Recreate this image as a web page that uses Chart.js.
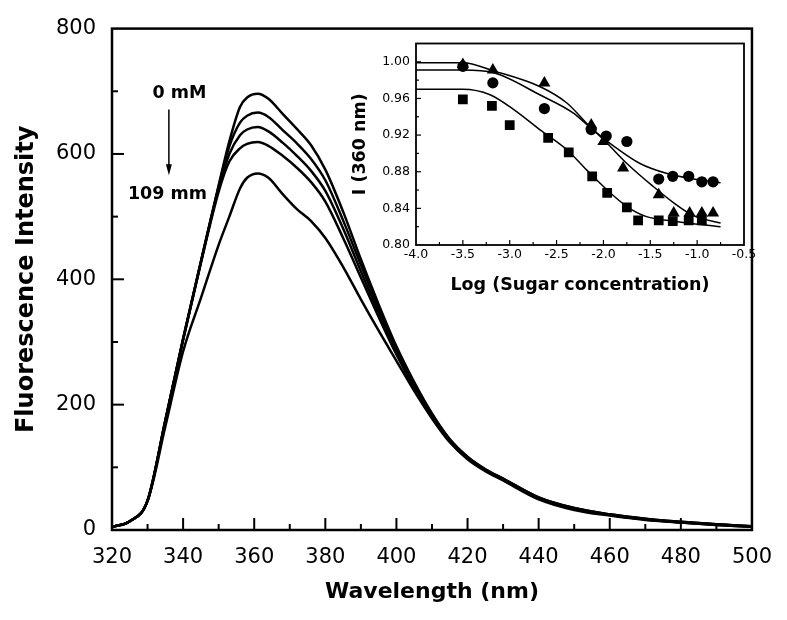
<!DOCTYPE html>
<html>
<head>
<meta charset="utf-8">
<script src="https://cdn.jsdelivr.net/npm/chart.js@4.4.1/dist/chart.umd.min.js"></script>
<style>
  body { margin: 0; background: #fff; }
  #wrap { position: relative; width: 787px; height: 620px; }
  #main { position: absolute; left: 0; top: 0; }
  #inset { position: absolute; left: 310px; top: 30px; }
</style>
</head>
<body>
<div id="wrap">
  <canvas id="main" width="787" height="620"></canvas>
  <canvas id="inset" width="450" height="270"></canvas>
</div>
<script>
// Main panel: emission spectra, 0 mM (top) down to 109 mM (bottom)
const wavelength = [320, 325, 330, 335, 340, 345, 350, 353, 356, 358, 361, 364, 368, 372, 376, 380, 385,
                    390, 395, 400, 405, 410, 415, 420, 425, 430, 440, 450, 460, 470, 480, 490, 500];
const spec0mM   = [5, 14, 47, 175, 305, 428, 550, 620, 675, 690, 696, 688, 664, 640, 614, 575, 508,
                   432, 360, 293, 236, 186, 145, 117, 97, 82, 52, 35, 25, 18, 13, 9, 6];
const specB     = [5, 14, 47, 175, 305, 428, 548, 612, 650, 661, 666, 659, 638, 617, 592, 558, 494,
                   423, 354, 289, 233, 184, 144, 116, 97, 82, 52, 35, 25, 18, 13, 9, 6];
const specC     = [5, 14, 47, 174, 304, 427, 545, 600, 630, 639, 643, 636, 618, 597, 573, 541, 481,
                   413, 347, 285, 230, 182, 143, 115, 96, 81, 51, 34, 24, 17, 12, 9, 6];
const specD     = [5, 14, 47, 173, 303, 426, 540, 588, 609, 616, 619, 613, 597, 578, 555, 524, 466,
                   403, 340, 280, 227, 180, 142, 114, 95, 80, 50, 34, 24, 17, 12, 8, 5];
const spec109mM = [5, 14, 46, 165, 285, 370, 455, 500, 545, 562, 569, 562, 536, 512, 493, 466, 420,
                   368, 318, 270, 222, 178, 140, 113, 94, 79, 49, 32, 23, 16, 12, 8, 5];
const spectra = [spec0mM, specB, specC, specD, spec109mM];

// Inset: I(360 nm) vs log(sugar concentration)
const triLog = [-3.5, -3.18, -2.63, -2.13, -2.0, -1.79, -1.41, -1.25, -1.08, -0.95, -0.83];
const triI   = [0.997, 0.991, 0.977, 0.931, 0.913, 0.884, 0.855, 0.835, 0.835, 0.835, 0.835];
const cirLog = [-3.5, -3.18, -2.63, -2.13, -1.97, -1.75, -1.41, -1.26, -1.09, -0.95, -0.83];
const cirI   = [0.995, 0.977, 0.949, 0.926, 0.919, 0.913, 0.872, 0.875, 0.875, 0.869, 0.869];
const sqLog  = [-3.5, -3.19, -3.0, -2.59, -2.37, -2.12, -1.96, -1.75, -1.63, -1.41, -1.26, -1.09, -0.95];
const sqI    = [0.959, 0.952, 0.931, 0.917, 0.901, 0.875, 0.857, 0.841, 0.827, 0.827, 0.826, 0.827, 0.827];

// fitted curves
const fitTriLog = [-4.0, -3.5, -3.17, -2.68, -2.39, -2.18, -1.96, -1.75, -1.47, -1.25, -1.04, -0.75];
const fitTriI   = [0.999, 0.999, 0.990, 0.973, 0.955, 0.933, 0.911, 0.889, 0.864, 0.846, 0.832, 0.824];
const fitCirLog = [-4.0, -3.5, -3.17, -2.68, -2.32, -2.15, -1.89, -1.61, -1.32, -1.04, -0.75];
const fitCirI   = [0.991, 0.991, 0.988, 0.964, 0.944, 0.929, 0.908, 0.889, 0.878, 0.872, 0.868];
const fitSqLog  = [-4.0, -3.5, -3.21, -2.96, -2.68, -2.39, -2.18, -1.96, -1.75, -1.54, -1.25, -0.75];
const fitSqI    = [0.970, 0.970, 0.964, 0.948, 0.926, 0.904, 0.882, 0.860, 0.842, 0.831, 0.826, 0.820];

Chart.defaults.font.family = "'DejaVu Sans', sans-serif";
Chart.defaults.color = '#000';

const toPts = (xs, ys) => xs.map((x, i) => ({ x: x, y: ys[i] }));

// frame + inward tick marks
const frameTicks = {
    id: 'frameTicks',
    beforeDatasetsDraw(chart, args, opts) {
        if (!opts.fill) return;
        const a = chart.chartArea;
        chart.ctx.save();
        chart.ctx.fillStyle = '#fff';
        chart.ctx.fillRect(a.left, a.top, a.right - a.left, a.bottom - a.top);
        chart.ctx.restore();
    },
    afterDatasetsDraw(chart, args, opts) {
        const { ctx, chartArea: a, scales } = chart;
        ctx.save();
        ctx.strokeStyle = '#000';
        ctx.lineWidth = opts.tickWidth;
        const xs = scales.x, ys = scales.y;
        xs.ticks.forEach(t => {
            if (t.value <= xs.min + 1e-9 || t.value >= xs.max - 1e-9) return;
            const px = xs.getPixelForValue(t.value);
            const len = t.label !== '' ? opts.major : opts.minor;
            ctx.beginPath();
            ctx.moveTo(px, a.bottom);
            ctx.lineTo(px, a.bottom - len);
            ctx.stroke();
        });
        ys.ticks.forEach(t => {
            if (t.value <= ys.min + 1e-9 || t.value >= ys.max - 1e-9) return;
            const py = ys.getPixelForValue(t.value);
            const len = t.label !== '' ? opts.major : opts.minor;
            ctx.beginPath();
            ctx.moveTo(a.left, py);
            ctx.lineTo(a.left + len, py);
            ctx.stroke();
        });
        ctx.lineWidth = opts.frameWidth;
        ctx.strokeRect(a.left, a.top, a.right - a.left, a.bottom - a.top);
        ctx.restore();
    }
};

// "0 mM -> 109 mm" arrow label
const arrowNote = {
    id: 'arrowNote',
    afterDraw(chart) {
        const { ctx, scales: { x, y } } = chart;
        ctx.save();
        ctx.fillStyle = '#000';
        ctx.strokeStyle = '#000';
        ctx.font = "bold 17.5px 'DejaVu Sans'";
        ctx.textAlign = 'center';
        ctx.textBaseline = 'middle';
        ctx.fillText('0 mM', x.getPixelForValue(339), y.getPixelForValue(697));
        ctx.fillText('109 mm', x.getPixelForValue(335.6), y.getPixelForValue(535));
        const ax = x.getPixelForValue(336);
        const y0 = y.getPixelForValue(671), y1 = y.getPixelForValue(566);
        ctx.lineWidth = 1.5;
        ctx.beginPath();
        ctx.moveTo(ax, y0);
        ctx.lineTo(ax, y1 - 8);
        ctx.stroke();
        ctx.beginPath();
        ctx.moveTo(ax - 3, y1 - 11);
        ctx.lineTo(ax, y1);
        ctx.lineTo(ax + 3, y1 - 11);
        ctx.closePath();
        ctx.fill();
        ctx.restore();
    }
};

new Chart(document.getElementById('main'), {
    type: 'line',
    data: {
        datasets: spectra.map(s => ({
            data: toPts(wavelength, s),
            borderColor: '#000',
            borderWidth: 2.5,
            pointRadius: 0,
            cubicInterpolationMode: 'monotone',
            fill: false
        }))
    },
    options: {
        responsive: false,
        animation: false,
        devicePixelRatio: 1,
        layout: { padding: { top: 21, right: 25, left: 0, bottom: 0 } },
        plugins: {
            legend: { display: false },
            tooltip: { enabled: false },
            frameTicks: { major: 12, minor: 6, tickWidth: 2, frameWidth: 2.5 }
        },
        scales: {
            x: {
                type: 'linear', min: 320, max: 500,
                grid: { display: false, drawTicks: false }, border: { display: false },
                ticks: {
                    stepSize: 10, autoSkip: false, maxRotation: 0, padding: 15,
                    font: { size: 21 },
                    callback: v => (v % 20 === 0 ? String(v) : '')
                },
                title: { display: true, text: 'Wavelength (nm)', font: { size: 22, weight: 'bold' },
                         padding: { top: 0, bottom: 15 } },
                afterFit: s => { s.height = 90; }
            },
            y: {
                type: 'linear', min: 0, max: 800,
                grid: { display: false, drawTicks: false }, border: { display: false },
                ticks: {
                    stepSize: 100, autoSkip: false, padding: 16,
                    font: { size: 21 },
                    callback: v => (v % 200 === 0 ? String(v) : '')
                },
                title: { display: true, text: 'Fluorescence Intensity', font: { size: 24, weight: 'bold' },
                         padding: { top: 12, bottom: 0 } },
                afterFit: s => { s.width = 112; }
            }
        }
    },
    plugins: [frameTicks, arrowNote]
});

const fitLine = (xs, ys) => ({
    type: 'line', data: toPts(xs, ys), borderColor: '#000', borderWidth: 1.5,
    pointRadius: 0, cubicInterpolationMode: 'monotone', fill: false, order: 5
});
const markers = (xs, ys, style, r, ord) => ({
    type: 'scatter', data: toPts(xs, ys), pointStyle: style, pointRadius: r,
    backgroundColor: '#000', borderColor: '#000', borderWidth: 0, showLine: false, order: ord
});

new Chart(document.getElementById('inset'), {
    type: 'scatter',
    data: {
        datasets: [
            fitLine(fitTriLog, fitTriI),
            fitLine(fitCirLog, fitCirI),
            fitLine(fitSqLog, fitSqI),
            markers(sqLog, sqI, 'rect', 6.9, 3),
            markers(cirLog, cirI, 'circle', 5.6, 2),
            markers(triLog, triI, 'triangle', 7, 1)
        ]
    },
    options: {
        responsive: false,
        animation: false,
        devicePixelRatio: 1,
        layout: { padding: { top: 13, right: 16, left: 0, bottom: 0 } },
        plugins: {
            legend: { display: false },
            tooltip: { enabled: false },
            frameTicks: { major: 5, minor: 3, tickWidth: 1.2, frameWidth: 1.8, fill: true }
        },
        scales: {
            x: {
                type: 'linear', min: -4, max: -0.5,
                grid: { display: false, drawTicks: false }, border: { display: false },
                ticks: {
                    stepSize: 0.25, autoSkip: false, maxRotation: 0, padding: 2.5,
                    font: { size: 12.5 },
                    callback: v => (Math.round(v * 4) % 2 === 0 ? v.toFixed(1) : '')
                },
                title: { display: true, text: 'Log (Sugar concentration)', font: { size: 17.5, weight: 'bold' },
                         padding: { top: 0, bottom: 4.5 } },
                afterFit: s => { s.height = 55; }
            },
            y: {
                type: 'linear', min: 0.8, max: 1.02,
                grid: { display: false, drawTicks: false }, border: { display: false },
                ticks: {
                    stepSize: 0.02, autoSkip: false, padding: 6,
                    font: { size: 12.5 },
                    callback: v => (Math.round(v * 100) % 4 === 0 ? v.toFixed(2) : '')
                },
                title: { display: true, text: 'I (360 nm)', font: { size: 17.5, weight: 'bold' },
                         padding: { top: 39.5, bottom: 0 } },
                afterFit: s => { s.width = 106; }
            }
        }
    },
    plugins: [frameTicks]
});
</script>
</body>
</html>
